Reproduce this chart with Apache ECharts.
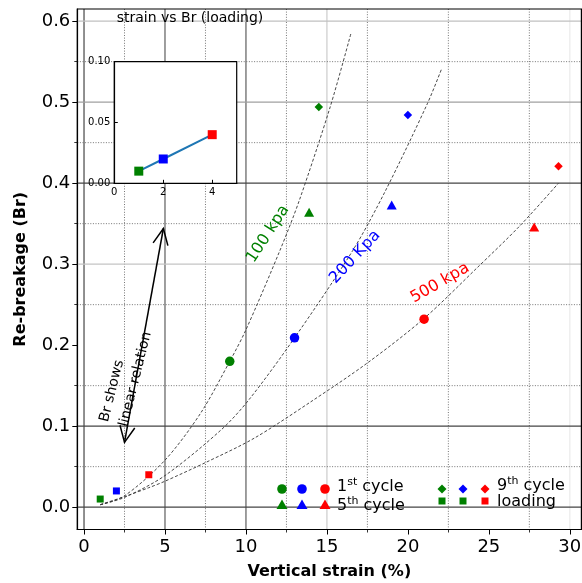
<!DOCTYPE html>
<html>
<head>
<meta charset="utf-8">
<script src="https://cdn.jsdelivr.net/npm/echarts@6/dist/echarts.min.js"></script>
<style>html,body{margin:0;padding:0;background:#fff;}#chart{width:582px;height:583px;}</style>
</head>
<body>
<div id="chart"></div>
<script>
// ---- data ----
const markerColors = ['#008000', '#0000ff', '#ff0000'];
const cycle1X = [9.0, 13.0, 21.0];
const cycle1Y = [0.180, 0.209, 0.232];
const cycle5X = [13.9, 19.0, 27.8];
const cycle5Y = [0.364, 0.373, 0.346];
const cycle9X = [14.5, 20.0, 29.3];
const cycle9Y = [0.494, 0.484, 0.421];
const loadingX = [1, 2, 4];
const loadingY = [0.010, 0.020, 0.040];

const fit100X = [1, 2.5, 5, 7.2, 9, 10, 12.1, 13.3, 15.2, 16.5];
const fit100Y = [0.003, 0.014, 0.058, 0.116, 0.180, 0.219, 0.317, 0.379, 0.494, 0.586];
const fit200X = [1, 2.5, 5, 8.5, 10.2, 13, 16.6, 18.6, 21.2, 22.1];
const fit200Y = [0.003, 0.012, 0.039, 0.096, 0.133, 0.209, 0.317, 0.390, 0.498, 0.542];
const fit500X = [1, 2.5, 4, 5, 7.5, 10.5, 14, 17.5, 21, 24.3, 26.9, 29.3];
const fit500Y = [0.003, 0.013, 0.024, 0.032, 0.055, 0.085, 0.130, 0.178, 0.233, 0.296, 0.347, 0.400];

const arrowSeg = [2.5, 0.08, 4.9, 0.344];

const xMajorTicks = [0, 5, 10, 15, 20, 25, 30];
const yMajorTicks = [0, 0.1, 0.2, 0.3, 0.4, 0.5, 0.6];
const xMinorTicks = [2.5, 7.5, 12.5, 17.5, 22.5, 27.5];
const yMinorTicks = [0.05, 0.15, 0.25, 0.35, 0.45, 0.55];
const insetXTicks = [0, 2, 4];
const insetYTicks = [0, 0.05, 0.1];

// visible grid lines of the reference
const xGridSolid = [0, 5, 10, 15, 30];
const xGridSolidColor = ['#555', '#6a6a6a', '#6a6a6a', '#d0d0d0', '#ececec'];
const yGridSolid = [0, 0.1, 0.3, 0.4, 0.5, 0.6];
const yGridSolidColor = ['#444', '#444', '#c4c4c4', '#444', '#a0a0a0', '#c0c0c0'];

const FONT = 'DejaVu Sans';

const gridLines = [];
xGridSolid.forEach((v, i) => gridLines.push({o: 'v', v: v, color: xGridSolidColor[i], w: 1.3, dash: null}));
xMinorTicks.forEach(v => gridLines.push({o: 'v', v: v, color: '#666', w: 0.9, dash: [1, 1.6]}));
yGridSolid.forEach((v, i) => gridLines.push({o: 'h', v: v, color: yGridSolidColor[i], w: 1.3, dash: null}));
yMinorTicks.forEach(v => gridLines.push({o: 'h', v: v, color: '#666', w: 0.9, dash: [1, 1.6]}));

function pts(xs, ys) { return xs.map((x, i) => [x, ys[i]]); }
function colored(xs, ys) { return xs.map((x, i) => ({value: [x, ys[i]], itemStyle: {color: markerColors[i], opacity: 1}})); }

const X_MIN = -0.415, X_MAX = 30.715, Y_MIN = -0.0276, Y_MAX = 0.615;

const chart = echarts.init(document.getElementById('chart'), null, {renderer: 'canvas'});

const curveStyle = {color: '#333', width: 0.9, type: [3, 2]};

const legendRich = {
  n: {fontSize: 16, fontFamily: FONT, lineHeight: 20, fill: '#000', color: '#000'},
  s: {fontSize: 11, fontFamily: FONT, lineHeight: 11, verticalAlign: 'top', fill: '#000', color: '#000'}
};

function legendText(x, y, txt) {
  return {type: 'text', x: x, y: y, z: 20, style: {text: txt, rich: legendRich, fontSize: 16, fontFamily: FONT, fill: '#000', verticalAlign: 'middle', align: 'left'}};
}
function legendCircle(cx, cy, c) { return {type: 'circle', z: 20, shape: {cx: cx, cy: cy, r: 4.8}, style: {fill: c}}; }
function legendTri(cx, cy, c) { return {type: 'polygon', z: 20, shape: {points: [[cx, cy - 5.5], [cx + 5.5, cy + 4], [cx - 5.5, cy + 4]]}, style: {fill: c}}; }
function legendDiamond(cx, cy, c) { return {type: 'polygon', z: 20, shape: {points: [[cx, cy - 4.5], [cx + 4.5, cy], [cx, cy + 4.5], [cx - 4.5, cy]]}, style: {fill: c}}; }
function legendSquare(cx, cy, c) { return {type: 'rect', z: 20, shape: {x: cx - 3.5, y: cy - 3.5, width: 7, height: 7}, style: {fill: c}}; }

const legendXs1 = [282, 302, 325];
const legendXs2 = [442, 463, 485];
const legendSquareColors = ['#008000', '#008000', '#ff0000'];

const graphics = [];
legendXs1.forEach((x, i) => { graphics.push(legendCircle(x, 489, markerColors[i])); graphics.push(legendTri(x, 505, markerColors[i])); });
legendXs2.forEach((x, i) => { graphics.push(legendDiamond(x, 489, markerColors[i])); graphics.push(legendSquare(x, 501, legendSquareColors[i])); });
graphics.push(legendText(337, 487, '{n|1}{s|st}{n| cycle}'));
graphics.push(legendText(337, 506, '{n|5}{s|th}{n| cycle}'));
graphics.push(legendText(497, 486, '{n|9}{s|th}{n| cycle}'));
graphics.push(legendText(497, 502, '{n|loading}'));

function rotText(txt, x, y, deg, color, size, extra) {
  return Object.assign({type: 'text', x: x, y: y, rotation: deg * Math.PI / 180, z: 20,
    style: {text: txt, fill: color, fontSize: size, fontFamily: FONT, align: 'center', verticalAlign: 'middle'}}, extra || {});
}
graphics.push(rotText('100 kpa', 268, 234, 57, '#008000', 16));
graphics.push(rotText('200 Kpa', 355, 257, 47, '#0000ff', 16));
graphics.push(rotText('500 kpa', 440, 283, 30, '#ff0000', 16));
graphics.push({type: 'text', x: 114, y: 424, rotation: 76 * Math.PI / 180, z: 20,
  style: {text: 'Br shows\nlinear relation', fill: '#000', fontSize: 14, fontFamily: FONT, align: 'left', verticalAlign: 'middle', lineHeight: 20}});
graphics.push({type: 'text', x: 190, y: 18, z: 20,
  style: {text: 'strain vs Br (loading)', fill: '#000', fontSize: 14, fontFamily: FONT, align: 'center', verticalAlign: 'middle'}});

const option = {
  animation: false,
  backgroundColor: '#fff',
  textStyle: {fontFamily: FONT},
  grid: [
    {left: 77.3, right: 0.6, top: 9, bottom: 53.5, containLabel: false, outerBoundsMode: 'none', show: true, borderColor: '#000', borderWidth: 1.2, backgroundColor: 'transparent', z: 2},
    {left: 114.3, top: 61.7, width: 122.4, height: 121.6, containLabel: false, outerBoundsMode: 'none', show: true, borderColor: '#000', borderWidth: 1.2, backgroundColor: '#fff', z: 5}
  ],
  xAxis: [
    {gridIndex: 0, type: 'value', position: 'bottom', min: X_MIN, max: X_MAX,
      axisLine: {show: true, onZero: false, lineStyle: {color: '#000', width: 1.2}},
      axisTick: {show: true, customValues: xMajorTicks, length: 5, lineStyle: {color: '#000', width: 1}},
      axisLabel: {show: true, customValues: xMajorTicks, fontSize: 18, color: '#000', margin: 9, fontFamily: FONT, formatter: v => String(Math.round(v))},
      splitLine: {show: false},
      name: 'Vertical strain (%)', nameLocation: 'middle', nameGap: 34,
      nameTextStyle: {fontSize: 16, fontWeight: 'bold', color: '#000', fontFamily: FONT}},
    {gridIndex: 0, type: 'value', position: 'bottom', min: X_MIN, max: X_MAX,
      axisLine: {show: false, onZero: false},
      axisTick: {show: true, customValues: xMinorTicks, length: 3, lineStyle: {color: '#000', width: 0.8}},
      axisLabel: {show: false}, splitLine: {show: false}},
    {gridIndex: 1, type: 'value', position: 'bottom', min: 0, max: 5, z: 6,
      axisLine: {show: true, onZero: false, lineStyle: {color: '#000', width: 1.2}},
      axisTick: {show: true, inside: true, customValues: insetXTicks, length: 3.5, lineStyle: {color: '#000'}},
      axisLabel: {show: true, customValues: insetXTicks, fontSize: 10, color: '#000', margin: 4, fontFamily: FONT},
      splitLine: {show: false}}
  ],
  yAxis: [
    {gridIndex: 0, type: 'value', position: 'left', min: Y_MIN, max: Y_MAX,
      axisLine: {show: true, onZero: false, lineStyle: {color: '#000', width: 1.2}},
      axisTick: {show: true, customValues: yMajorTicks, length: 5, lineStyle: {color: '#000', width: 1}},
      axisLabel: {show: true, customValues: yMajorTicks, fontSize: 18, color: '#000', margin: 7, fontFamily: FONT, formatter: v => v.toFixed(1)},
      splitLine: {show: false},
      name: 'Re-breakage (Br)', nameLocation: 'middle', nameGap: 48,
      nameTextStyle: {fontSize: 16, fontWeight: 'bold', color: '#000', fontFamily: FONT}},
    {gridIndex: 0, type: 'value', position: 'left', min: Y_MIN, max: Y_MAX,
      axisLine: {show: false, onZero: false},
      axisTick: {show: true, customValues: yMinorTicks, length: 3, lineStyle: {color: '#000', width: 0.8}},
      axisLabel: {show: false}, splitLine: {show: false}},
    {gridIndex: 1, type: 'value', position: 'left', min: 0, max: 0.1, z: 6,
      axisLine: {show: true, onZero: false, lineStyle: {color: '#000', width: 1.2}},
      axisTick: {show: true, inside: true, customValues: insetYTicks, length: 3.5, lineStyle: {color: '#000'}},
      axisLabel: {show: true, customValues: insetYTicks, fontSize: 10, color: '#000', margin: 4, fontFamily: FONT, formatter: v => v.toFixed(2)},
      splitLine: {show: false}}
  ],
  series: [
    {type: 'custom', xAxisIndex: 0, yAxisIndex: 0, z: 1, silent: true, clip: false,
      data: gridLines.map(g => [g.o === 'v' ? g.v : 0, g.o === 'h' ? g.v : 0]),
      renderItem: function (params, api) {
        const g = gridLines[params.dataIndex];
        const cs = params.coordSys;
        if (g.o === 'v') {
          const x = api.coord([g.v, 0])[0];
          return {type: 'line', shape: {x1: x, y1: cs.y, x2: x, y2: cs.y + cs.height}, style: {stroke: g.color, lineWidth: g.w, lineDash: g.dash}};
        }
        const y = api.coord([0, g.v])[1];
        return {type: 'line', shape: {x1: cs.x, y1: y, x2: cs.x + cs.width, y2: y}, style: {stroke: g.color, lineWidth: g.w, lineDash: g.dash}};
      }},
    {type: 'line', name: '100 kpa', xAxisIndex: 0, yAxisIndex: 0, z: 2, data: pts(fit100X, fit100Y), showSymbol: false, smooth: 0.3, lineStyle: curveStyle, silent: true},
    {type: 'line', name: '200 kpa', xAxisIndex: 0, yAxisIndex: 0, z: 2, data: pts(fit200X, fit200Y), showSymbol: false, smooth: 0.3, lineStyle: curveStyle, silent: true},
    {type: 'line', name: '500 kpa', xAxisIndex: 0, yAxisIndex: 0, z: 2, data: pts(fit500X, fit500Y), showSymbol: false, smooth: 0.3, lineStyle: curveStyle, silent: true},
    {type: 'scatter', name: '1st cycle', xAxisIndex: 0, yAxisIndex: 0, z: 3, symbol: 'circle', symbolSize: 9.5, data: colored(cycle1X, cycle1Y)},
    {type: 'scatter', name: '5th cycle', xAxisIndex: 0, yAxisIndex: 0, z: 3, symbol: 'triangle', symbolSize: [10, 9], data: colored(cycle5X, cycle5Y)},
    {type: 'scatter', name: '9th cycle', xAxisIndex: 0, yAxisIndex: 0, z: 3, symbol: 'diamond', symbolSize: 8.5, data: colored(cycle9X, cycle9Y)},
    {type: 'scatter', name: 'loading', xAxisIndex: 0, yAxisIndex: 0, z: 3, symbol: 'rect', symbolSize: 7, data: colored(loadingX, loadingY)},
    {type: 'custom', xAxisIndex: 0, yAxisIndex: 0, z: 4, silent: true, clip: false,
      encode: {x: [0, 2], y: [1, 3]},
      data: [arrowSeg],
      renderItem: function (params, api) {
        const p1 = api.coord([api.value(0), api.value(1)]);
        const p2 = api.coord([api.value(2), api.value(3)]);
        const dx = p2[0] - p1[0], dy = p2[1] - p1[1];
        const len = Math.hypot(dx, dy);
        const ux = dx / len, uy = dy / len;
        const L = 16, W = 7.5;
        const head = (tip, ax, ay) => [[tip[0] - ax * L - ay * W, tip[1] - ay * L + ax * W], [tip[0], tip[1]], [tip[0] - ax * L + ay * W, tip[1] - ay * L - ax * W]];
        const st = {stroke: '#000', lineWidth: 1.5, fill: null};
        return {type: 'group', children: [
          {type: 'line', shape: {x1: p1[0], y1: p1[1], x2: p2[0], y2: p2[1]}, style: st},
          {type: 'polyline', shape: {points: head(p2, ux, uy)}, style: st},
          {type: 'polyline', shape: {points: head(p1, -ux, -uy)}, style: st}
        ]};
      }},
    {type: 'line', name: 'inset', xAxisIndex: 2, yAxisIndex: 2, z: 6,
      data: colored(loadingX, loadingY), symbol: 'rect', symbolSize: 9, showSymbol: true,
      lineStyle: {color: '#1f77b4', width: 2}, silent: true}
  ],
  graphic: graphics
};
chart.setOption(option);
</script>
</body>
</html>
